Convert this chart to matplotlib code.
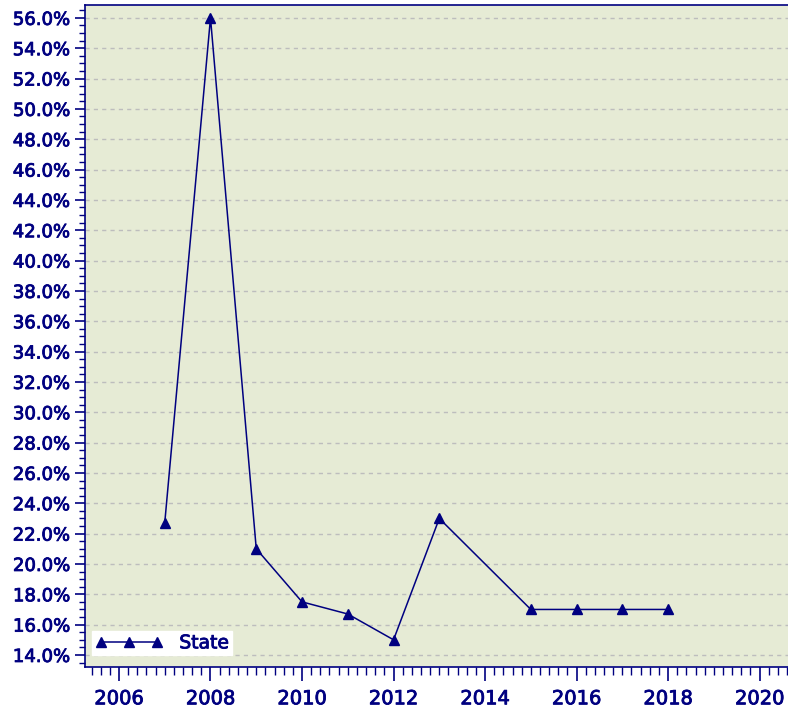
import matplotlib
matplotlib.use("Agg")
import matplotlib.pyplot as plt
import matplotlib.patheffects as pe
from matplotlib.ticker import MultipleLocator, FuncFormatter

# data
years = [2007, 2008, 2009, 2010, 2011, 2012, 2013, 2015, 2016, 2017, 2018]
state = [22.7, 56.0, 21.0, 17.5, 16.7, 15.0, 23.0, 17.0, 17.0, 17.0, 17.0]

navy = "#000080"
bg = "#E6EBD5"

plt.rcParams['font.family'] = ['DejaVu Sans']

fig = plt.figure(figsize=(7.88, 7.15), dpi=100)
ax = fig.add_axes([0.108, 0.067, 0.892, 0.926])
ax.set_facecolor(bg)

ax.plot(years, state, color=navy, lw=1.1, marker="^", markersize=7.5, label="State")

ax.set_xlim(2005.26, 2020.62)
ax.set_ylim(13.2, 56.85)

ax.xaxis.set_major_locator(MultipleLocator(2))
ax.xaxis.set_minor_locator(MultipleLocator(0.2))
ax.yaxis.set_major_locator(MultipleLocator(2))
ax.yaxis.set_minor_locator(MultipleLocator(0.5))
ax.yaxis.set_major_formatter(FuncFormatter(lambda v, p: f"{v:.1f}%"))

ax.grid(axis="y", which="major", color="#BDBDBD", linestyle=(0, (3, 3)), lw=1)

for s in ["left", "bottom", "top"]:
    ax.spines[s].set_color(navy)
    ax.spines[s].set_linewidth(1.2)
ax.spines["right"].set_visible(False)

ax.tick_params(axis="both", which="major", colors=navy, labelcolor=navy, width=1.2)
ax.tick_params(axis="y", which="major", length=7, pad=4, labelsize=13)
ax.tick_params(axis="x", which="major", length=10, pad=6, labelsize=14)
ax.tick_params(axis="y", which="minor", length=4, colors=navy, width=1)
ax.tick_params(axis="x", which="minor", length=6, colors=navy, width=1)

bold = [pe.withStroke(linewidth=0.6, foreground=navy)]
for lab in ax.get_xticklabels() + ax.get_yticklabels():
    lab.set_path_effects(bold)

leg = ax.legend(loc="lower left", numpoints=3, frameon=True, fancybox=False,
                framealpha=1, edgecolor="white", facecolor="white",
                fontsize=13.5, borderpad=0.15, handlelength=3.6, handletextpad=0.9,
                borderaxespad=0, bbox_to_anchor=(0.01, 0.018))
for t in leg.get_texts():
    t.set_color(navy)
    t.set_path_effects(bold)

fig.savefig("out.png", dpi=100)
